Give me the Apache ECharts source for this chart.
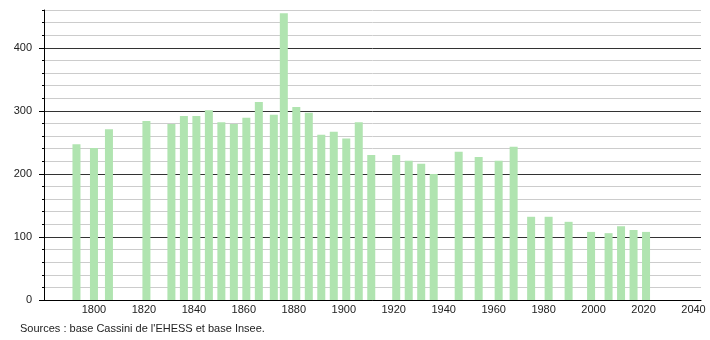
<!DOCTYPE html>
<html>
<head>
<meta charset="utf-8">
<script src="https://cdn.jsdelivr.net/npm/echarts@6/dist/echarts.min.js"></script>
<style>
html,body{margin:0;padding:0;background:#fff;}
#chart{width:710px;height:340px;}
</style>
</head>
<body>
<div id="chart"></div>
<script>
const years = [1793,1800,1806,1821,1831,1836,1841,1846,1851,1856,1861,1866,1872,1876,1881,1886,1891,1896,1901,1906,1911,1921,1926,1931,1936,1946,1954,1962,1968,1975,1982,1990,1999,2006,2011,2016,2021];
const population = [247,241,271,284,279,292,292,301,282,279,289,314,294,455,306,297,262,267,256,282,230,230,221,216,200,235,227,221,243,132,132,124,108,106,117,111,108];
const yTickLabels = [0,100,200,300,400];
const xTickLabels = [1800,1820,1840,1860,1880,1900,1920,1940,1960,1980,2000,2020,2040];
const sourceText = "Sources : base Cassini de l'EHESS et base Insee.";

const chart = echarts.init(document.getElementById('chart'), null, {renderer:'canvas'});
const font = 'Liberation Sans, Arial, sans-serif';
const gridColors = [];
for (let v = 0; v <= 460; v += 20) gridColors.push(v % 100 === 0 ? '#333333' : '#cccccc');

chart.setOption({
  animation:false,
  backgroundColor:'#ffffff',
  grid:{left:44,right:9,top:10,bottom:40,containLabel:false},
  graphic:[{type:'text',left:20,top:323,style:{text:sourceText,font:'11px '+font,fill:'#222'}}],
  xAxis:{
    type:'value',min:1780,max:2043,interval:20,
    axisLine:{show:true,lineStyle:{color:'#000',width:1}},
    axisTick:{show:false},
    splitLine:{show:false},
    axisLabel:{color:'#222',fontSize:11,fontFamily:font,margin:4,
      formatter:v=>xTickLabels.indexOf(v)>=0?String(v):''}
  },
  yAxis:[{
    type:'value',min:0,max:460,interval:20,
    axisLine:{show:true,lineStyle:{color:'#000',width:1}},
    axisTick:{show:true,length:2,lineStyle:{color:'#000'}},
    splitLine:{show:true,lineStyle:{color:gridColors,width:1}},
    axisLabel:{color:'#222',fontSize:11,fontFamily:font,margin:12,
      formatter:v=>yTickLabels.indexOf(v)>=0?String(v):''}
  },{
    type:'value',min:0,max:460,interval:100,position:'left',
    axisLine:{show:false},
    axisTick:{show:true,length:5,lineStyle:{color:'#000'},customValues:yTickLabels},
    splitLine:{show:false},
    axisLabel:{show:false}
  }],
  series:[{
    type:'bar',
    data:years.map((y,i)=>[y,population[i]]),
    barWidth:8,
    itemStyle:{color:'#b0e4b0'},
    silent:true
  }]
});
</script>
</body>
</html>
